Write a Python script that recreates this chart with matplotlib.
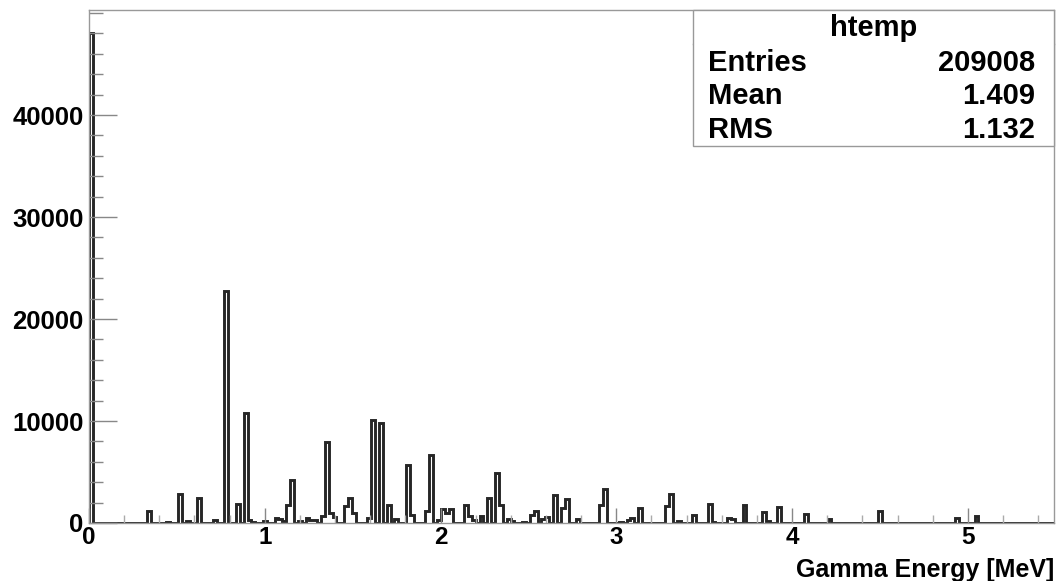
import numpy as np
import matplotlib.pyplot as plt
from matplotlib.ticker import MultipleLocator, FixedLocator

# gamma line energies (MeV) and counts per bin
energies = [0.01, 0.335, 0.45, 0.51, 0.56, 0.635, 0.725, 0.77, 0.84, 0.885,
            0.905, 0.94, 0.99, 1.07, 1.09, 1.11, 1.14, 1.16, 1.19, 1.24,
            1.27, 1.29, 1.32, 1.35, 1.37, 1.395, 1.455, 1.48, 1.50, 1.59,
            1.61, 1.655, 1.695, 1.755, 1.81, 1.83, 1.93, 1.955, 1.98, 2.02,
            2.04, 2.06, 2.15, 2.165, 2.18, 2.23, 2.285, 2.32, 2.34, 2.38,
            2.40, 2.48, 2.51, 2.53, 2.575, 2.60, 2.64, 2.69, 2.72, 2.78,
            2.915, 2.945, 3.03, 3.06, 3.09, 3.13, 3.295, 3.32, 3.35, 3.45,
            3.52, 3.56, 3.63, 3.66, 3.72, 3.835, 3.86, 3.93, 4.07, 4.22,
            4.50, 4.94, 5.05]
counts = [48000, 1180, 100, 2850, 200, 2450, 300, 22700, 1850, 10800,
          300, 100, 200, 450, 400, 200, 1750, 4200, 200, 500,
          300, 300, 650, 7950, 1000, 600, 1650, 2450, 1000, 500,
          10100, 9800, 1800, 400, 5650, 750, 1150, 6650, 300, 1400,
          1000, 1400, 1750, 700, 300, 650, 2450, 4900, 1750, 400,
          200, 100, 800, 1200, 400, 600, 2750, 1500, 2350, 400,
          1800, 3350, 100, 300, 450, 1450, 1700, 2850, 200, 800,
          1850, 50, 500, 400, 1750, 1100, 200, 1600, 900, 400,
          1150, 500, 650]

y_major = [0, 10000, 20000, 30000, 40000]
stats_labels = ["Entries", "Mean", "RMS"]
stats_values = ["209008", "1.409", "1.132"]

plt.rcParams['font.family'] = ['Liberation Sans', 'DejaVu Sans']
plt.rcParams['font.weight'] = 'bold'

W, H = 1059, 581
fig = plt.figure(figsize=(W / 100, H / 100), dpi=100)
ax = fig.add_axes([89 / W, 1 - 523 / H, (1054 - 89) / W, (523 - 10) / H])

edges = np.linspace(0, 5.5, 251)
hist, _ = np.histogram(energies, bins=edges, weights=counts)
ax.stairs(hist, edges, color='#262626', lw=2.1)

ax.set_xlim(0, 5.49)
ax.set_ylim(0, 50300)

for s in ax.spines.values():
    s.set_color('#999999')
    s.set_linewidth(1)

ax.xaxis.set_major_locator(MultipleLocator(1))
ax.xaxis.set_minor_locator(MultipleLocator(0.2))
ax.yaxis.set_major_locator(FixedLocator(y_major))
ax.yaxis.set_minor_locator(MultipleLocator(2000))
ax.tick_params(axis='x', which='major', direction='in', length=11, width=1,
               color='#888888', labelsize=17.5, pad=2)
ax.tick_params(axis='x', which='minor', direction='in', length=6, width=1,
               color='#aaaaaa')
ax.tick_params(axis='y', which='major', direction='in', length=20, width=1,
               color='#888888', labelsize=18.5, pad=4)
ax.tick_params(axis='y', which='minor', direction='in', length=10, width=1,
               color='#888888')

# axis title, right-aligned under the axis
fig.text(1054 / W, 1 - 577 / H, "Gamma Energy [MeV]", ha='right',
         va='baseline', fontsize=18, fontweight='bold')

# stats box
bx0, bx1, by0, by1 = 693, 1054, 10, 146
box = plt.Rectangle((bx0 / W, 1 - by1 / H), (bx1 - bx0) / W, (by1 - by0) / H,
                    transform=fig.transFigure, facecolor='white',
                    edgecolor='#999999', lw=1, zorder=5)
fig.patches.append(box)
fig.add_artist(plt.Line2D([bx0 / W, bx1 / W], [1 - 44 / H, 1 - 44 / H],
                          transform=fig.transFigure, color='#999999', lw=1))
fig.text(874 / W, 1 - 28 / H, "htemp", ha='center', va='center',
         fontsize=21, fontweight='bold', zorder=6)
for i, (lab, val) in enumerate(zip(stats_labels, stats_values)):
    yy = 1 - (63 + 33.5 * i) / H
    fig.text(708 / W, yy, lab, ha='left', va='center', fontsize=21,
             fontweight='bold', zorder=6)
    fig.text(1035 / W, yy, val, ha='right', va='center', fontsize=21,
             fontweight='bold', zorder=6)

fig.savefig("out.png", dpi=100)
